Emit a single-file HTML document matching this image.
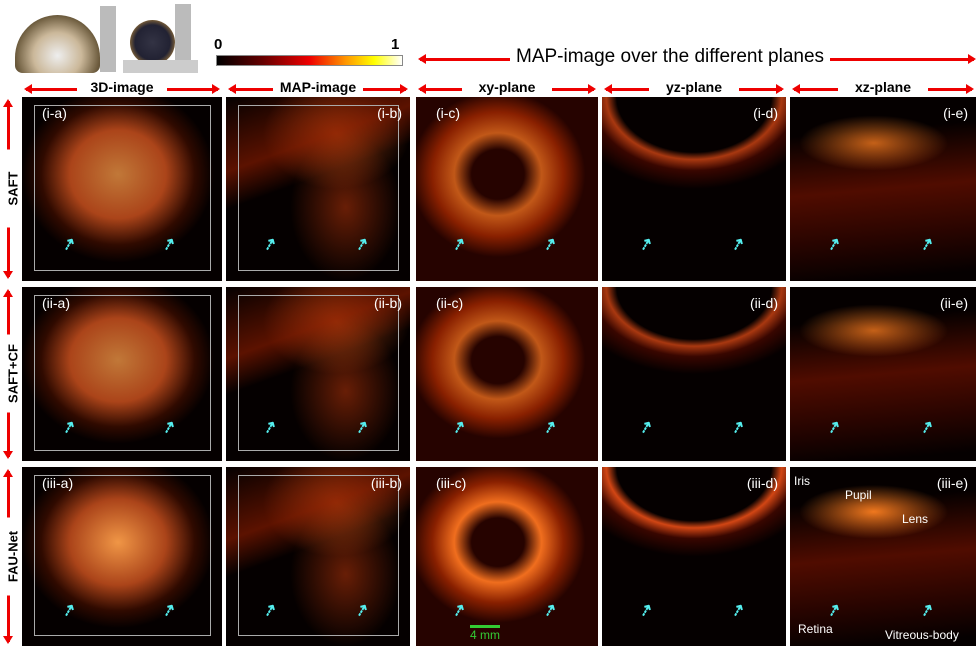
<!DOCTYPE html>
<html><head><meta charset="utf-8">
<style>
body{margin:0;background:#fff;width:980px;height:650px;position:relative;overflow:hidden;font-family:"Liberation Sans",sans-serif}
.p{position:absolute;background:#050000;overflow:hidden}
.lbl{position:absolute;color:#fff;font-size:14px;top:8px}
.hdr{position:absolute;font-weight:bold;font-size:14px;top:79px;text-align:center;background:#fff;padding:0 6px}
.ha{position:absolute;height:3px;background:#e00;top:88px}
.ha::before{content:"";position:absolute;left:-2px;top:-4px;border:5.5px solid transparent;border-right:8px solid #e00;border-left:0}
.ha::after{content:"";position:absolute;right:-2px;top:-4px;border:5.5px solid transparent;border-left:8px solid #e00;border-right:0}
.rl{position:absolute;font-weight:bold;font-size:13px;transform:rotate(-90deg);transform-origin:center;white-space:nowrap;background:#fff;padding:0 4px}
.va{position:absolute;width:3px;background:#e00;left:7px}
.va::before{content:"";position:absolute;top:-2px;left:-4px;border:5.5px solid transparent;border-bottom:8px solid #e00;border-top:0}
.va::after{content:"";position:absolute;bottom:-2px;left:-4px;border:5.5px solid transparent;border-top:8px solid #e00;border-bottom:0}
.ar{position:absolute;color:#5ee;font-size:16px;font-weight:bold;transform:rotate(30deg)}
.box{position:absolute;border:1px solid #aaa}
</style></head><body>
<div style="position:absolute;left:15px;top:15px;width:85px;height:58px;border-radius:45px 45px 8px 8px;background:radial-gradient(ellipse at 50% 70%,#eee 0,#cbb89a 40%,#6b5a3c 70%,#333 100%)"></div>
<div style="position:absolute;left:100px;top:6px;width:16px;height:66px;background:#bbb"></div>
<div style="position:absolute;left:130px;top:20px;width:45px;height:45px;border-radius:50%;background:radial-gradient(circle,#334 0,#223 55%,#8a6a3a 75%,#ddd 100%)"></div>
<div style="position:absolute;left:175px;top:4px;width:16px;height:64px;background:#bbb"></div>
<div style="position:absolute;left:123px;top:60px;width:75px;height:13px;background:#ccc"></div>
<div style="position:absolute;left:214px;top:36px;font-weight:bold;font-size:15px">0</div>
<div style="position:absolute;left:391px;top:36px;font-weight:bold;font-size:15px">1</div>
<div style="position:absolute;left:216px;top:55px;width:185px;height:9px;border:1px solid #888;background:linear-gradient(90deg,#000,#600 25%,#e00 50%,#f90 70%,#ff0 85%,#fff)"></div>
<div class="ha" style="left:420px;width:554px;top:58px"></div>
<div style="position:absolute;left:510px;top:46px;font-size:19px;background:#fff;padding:0 6px">MAP-image over the different planes</div>
<div id="c"></div>
<script>
const cols=[[22,222],[226,410],[416,598],[602,786],[790,976]];
const rows=[[97,281],[287,461],[467,646]];
const heads=["3D-image","MAP-image","xy-plane","yz-plane","xz-plane"];
const rowNames=["SAFT","SAFT+CF","FAU-Net"];
const rom=["i","ii","iii"],let_=["a","b","c","d","e"];
const c=document.getElementById('c');
function add(html){c.insertAdjacentHTML('beforeend',html);return c.lastElementChild;}
cols.forEach((cl,i)=>{
 let a=add(`<div class="ha"></div>`);a.style.left=(cl[0]+4)+'px';a.style.width=(cl[1]-cl[0]-8)+'px';
 
 let h=add(`<div class="hdr">${heads[i]}</div>`);h.style.left=((cl[0]+cl[1])/2-45)+'px';h.style.width='78px';
 
});
rows.forEach((r,j)=>{
 let v=add(`<div class="va"></div>`);v.style.top=(r[0]+4)+'px';v.style.height=(r[1]-r[0]-8)+'px';
 
 let t=add(`<div class="rl">${rowNames[j]}</div>`);t.style.left=(9-35)+'px';t.style.width='70px';t.style.textAlign='center';t.style.top=((r[0]+r[1])/2-8)+'px';
 
 cols.forEach((cl,i)=>{
  let p=add(`<div class="p"></div>`);
  p.style.left=cl[0]+'px';p.style.top=r[0]+'px';p.style.width=(cl[1]-cl[0])+'px';p.style.height=(r[1]-r[0])+'px';
  
  let w=cl[1]-cl[0],hh=r[1]-r[0];
  let bright=j==2?1:0.8;
  let g;
  if(i==0) g=`radial-gradient(ellipse 48% 48% at 48% 42%,rgba(240,150,70,${bright}) 0,rgba(200,80,30,.85) 50%,rgba(90,20,0,.5) 80%,transparent 100%)`;
  else if(i==1) g=`linear-gradient(160deg,transparent 0,rgba(150,30,0,.6) 30%,transparent 45%),radial-gradient(ellipse 40% 30% at 60% 20%,rgba(200,80,20,.7),transparent),radial-gradient(ellipse 30% 40% at 65% 60%,rgba(170,50,10,.6),transparent)`;
  else if(i==2) g=`radial-gradient(ellipse 48% 45% at 45% 42%,rgba(60,5,0,.6) 0,rgba(60,5,0,.6) 30%,rgba(240,110,30,${bright}) 50%,rgba(170,40,0,.8) 75%,rgba(60,5,0,.6) 100%)`;
  else if(i==3) g=`radial-gradient(ellipse 70% 50% at 50% 0%,transparent 60%,rgba(210,70,20,${bright}) 68%,rgba(90,10,0,.6) 80%,transparent 100%)`;
  else g=`radial-gradient(ellipse 40% 15% at 45% 25%,rgba(240,120,30,${bright}),transparent),linear-gradient(175deg,transparent 20%,rgba(130,20,0,.6) 50%,rgba(90,10,0,.4) 75%,transparent 95%)`;
  p.style.backgroundImage=g;
  if(i==0||i==1){let b=add(`<div class="box"></div>`);p.appendChild(b);b.style.left='12px';b.style.top='8px';b.style.width=(w-25)+'px';b.style.height=(hh-20)+'px';
   }
  let l=add(`<div class="lbl">(${rom[j]}-${let_[i]})</div>`);p.appendChild(l);
  if(i==0||i==2){l.style.left='20px';}else{l.style.right='8px';}
  
  [[0.2,0.75],[0.7,0.75]].forEach(q=>{let ar=add(`<div class="ar">⇡</div>`);p.appendChild(ar);ar.style.left=(q[0]*w)+'px';ar.style.top=(q[1]*hh)+'px';
   });
 });
});
const ann=[["Iris",794,474],["Pupil",845,488],["Lens",902,512],["Retina",798,622],["Vitreous-body",885,628],["4 mm",470,628]];
ann.forEach(a=>{let t=add(`<div style="position:absolute;color:${a[0]=='4 mm'?'#3c3':'#fff'};font-size:12px">${a[0]}</div>`);t.style.left=a[1]+'px';t.style.top=a[2]+'px';
 });
let sb=add(`<div style="position:absolute;left:470px;top:625px;width:30px;height:3px;background:#3c3"></div>`);

</script>
</body></html>
